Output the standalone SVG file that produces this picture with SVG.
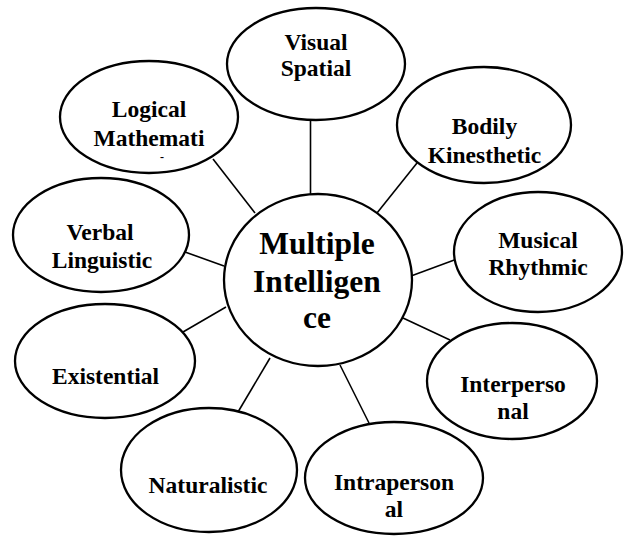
<svg xmlns="http://www.w3.org/2000/svg" width="627" height="536" viewBox="0 0 627 536">
<style>
.n{fill:#fff;stroke:#000;stroke-width:2.3}
.c{stroke:#000;stroke-width:1.6;fill:none}
text{font-family:"Liberation Serif","Times New Roman",serif;font-weight:bold;font-size:23.5px;text-anchor:middle;fill:#000}
.big{font-size:31.5px}
</style>
<rect width="627" height="536" fill="#fff"/>
<g id="connectors">
<line class="c" x1="310.5" y1="120" x2="310.5" y2="195"/>
<line class="c" x1="213" y1="159" x2="255" y2="213"/>
<line class="c" x1="417" y1="163" x2="377" y2="213"/>
<line class="c" x1="411" y1="276" x2="457" y2="259"/>
<line class="c" x1="403" y1="318" x2="450" y2="340"/>
<line class="c" x1="340" y1="365" x2="369" y2="423"/>
<line class="c" x1="270" y1="358" x2="238" y2="412"/>
<line class="c" x1="226" y1="307" x2="183" y2="332"/>
<line class="c" x1="185" y1="252" x2="224" y2="266"/>
</g>
<g id="center">
<ellipse class="n" cx="318" cy="280" rx="94" ry="86"/>
<text class="big" x="317" y="254">Multiple</text>
<text class="big" x="317" y="292">Intelligen</text>
<text class="big" x="317" y="328">ce</text>
</g>
<g id="visual-spatial">
<ellipse class="n" cx="316" cy="64" rx="89" ry="56"/>
<text x="316" y="50">Visual</text>
<text x="316" y="76">Spatial</text>
</g>
<g id="logical-mathematical">
<ellipse class="n" cx="149" cy="117" rx="89" ry="56"/>
<text x="149" y="117">Logical</text>
<text x="149" y="146">Mathemati</text>
<text x="162" y="161" style="font-size:12px">-</text>
</g>
<g id="bodily-kinesthetic">
<ellipse class="n" cx="484" cy="125" rx="87" ry="58"/>
<text x="484.5" y="134">Bodily</text>
<text x="484.5" y="163">Kinesthetic</text>
</g>
<g id="musical-rhythmic">
<ellipse class="n" cx="538" cy="252" rx="84" ry="60"/>
<text x="538" y="248">Musical</text>
<text x="538" y="275">Rhythmic</text>
</g>
<g id="interpersonal">
<ellipse class="n" cx="512" cy="381" rx="85" ry="58"/>
<text x="513" y="392">Interperso</text>
<text x="513" y="419">nal</text>
</g>
<g id="intrapersonal">
<ellipse class="n" cx="394" cy="478" rx="89" ry="56"/>
<text x="394" y="490">Intraperson</text>
<text x="394" y="517">al</text>
</g>
<g id="naturalistic">
<ellipse class="n" cx="209" cy="470" rx="88" ry="62"/>
<text x="208" y="493">Naturalistic</text>
</g>
<g id="existential">
<ellipse class="n" cx="105" cy="361" rx="90" ry="57"/>
<text x="105.5" y="384">Existential</text>
</g>
<g id="verbal-linguistic">
<ellipse class="n" cx="101" cy="235" rx="88" ry="57"/>
<text x="100" y="240">Verbal</text>
<text x="102" y="268">Linguistic</text>
</g>
</svg>
